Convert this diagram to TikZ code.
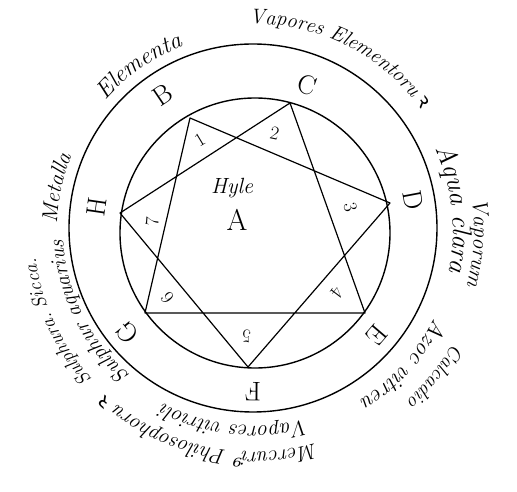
\documentclass[tikz,border=0pt]{standalone}
\usepackage{fontspec}
\newfontfamily\dejavu{DejaVu Serif}
\newfontfamily\curlfont{Noto Sans}
\usetikzlibrary{decorations.text}
\tikzset{
  ring/.style={draw,line width=1.4pt},
  starline/.style={draw,line width=1.2pt,line join=round},
  pointlbl/.style={font=\fontsize{27}{27}\selectfont,inner sep=0pt},
  numlbl/.style={font=\fontsize{19}{19}\selectfont,inner sep=0pt},
}
% text set clockwise round the ring, tops outward
\newcommand\ringtext[4][22]{%
  \begin{scope}
    \fontsize{#1}{#1}\selectfont
    \path[decorate,decoration={text along path,text align=center,
          text={|\itshape|#4}}]
      ({#3+45}:#2pt) arc[start angle={#3+45},end angle={#3-45},radius=#2pt];
  \end{scope}}

\begin{document}
\begin{tikzpicture}[x=1pt,y=1pt]
  \path[use as bounding box,fill=white] (-254,-262) rectangle (263,230);

  % the two rings
  \draw[ring] (-1,2) circle[radius=184pt];
  \draw[ring] (1,-3) circle[radius=135pt];

  % heptagram points
  \coordinate (vB) at (-64,112);
  \coordinate (vC) at (36,127);
  \coordinate (vD) at (136,27);
  \coordinate (vE) at (111,-83);
  \coordinate (vF) at (-6,-137);
  \coordinate (vG) at (-109,-83);
  \coordinate (vH) at (-134,17);
  \draw[starline] (vB) -- (vD) -- (vF) -- (vH) -- (vC) -- (vE) -- (vG) -- cycle;

  % letters between the rings
  \foreach \name/\ang/\rad in {B/124/163, C/70/154, D/10.7/162, E/-40.5/162,
                               F/-90.4/162, G/-141/163.5, H/171.7/159}{
    \node[pointlbl,rotate=\ang-90] (l\name) at (\ang:\rad) {\name};
  }

  % numbers in the points of the star
  \foreach \num/\ang/\rad in {1/121/105, 2/78/99, 3/13.5/99, 4/-37/104,
                              5/-94/107, 6/-142/110, 7/175.5/102}{
    \node[numlbl,rotate=\ang-90] (n\num) at (\ang:\rad) {\num};
  }

  \node[font=\fontsize{22}{22}\selectfont\itshape] (hyle) at (-22,42) {Hyle};
  \node[font=\fontsize{30}{30}\selectfont] (centre) at (-17,10) {A};

  % outer writing
  \ringtext[24]{197}{125}{Elementa}
  \ringtext[21]{206}{63.5}{Vapores Elementoru|\curlfont| ꝛ}
  \ringtext[22]{220}{-3.4}{Vaporum}
  \ringtext[27]{199}{6}{Aqua clara}
  \ringtext[20]{229}{-39}{Calcadio}
  \ringtext[23]{201}{-42}{Azoc vitreu}
  \ringtext[21.5]{222}{-103}{Mercuri|\dejavu\itshape|⁹|\itshape| Philosophoru|\curlfont| ꝛ}
  \ringtext[22]{196}{-96}{Vapores vitrioli}
  \ringtext[19.5]{220}{-155}{Sulphura. Sicca.}
  \ringtext[21.5]{191}{-153.7}{Sulphur aquarius}
  \ringtext[22]{197}{168}{Metalla}
\end{tikzpicture}
\end{document}
